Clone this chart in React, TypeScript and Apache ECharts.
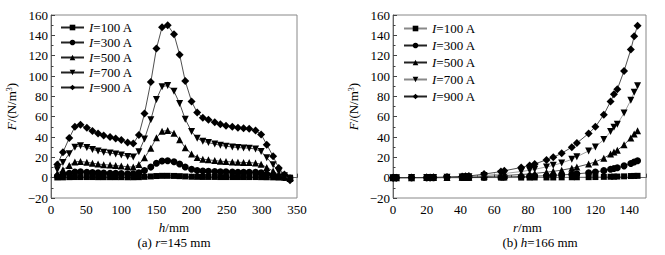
import { useEffect, useRef } from 'react';
import * as echarts from 'echarts';

// ---- Left chart (a) r = 145 mm : F vs h ----
const hValues = [9, 17, 26, 34, 42, 51, 59, 67, 75, 84, 92, 100, 109, 117, 125, 133, 142, 150, 158, 166, 175, 183, 191, 200, 208, 216, 224, 233, 241, 249, 258, 266, 274, 282, 291, 299, 307, 316, 324, 332, 340];
const leftF100 = [0.2, 0.3, 0.5, 0.6, 0.6, 0.6, 0.6, 0.5, 0.5, 0.5, 0.5, 0.5, 0.4, 0.4, 0.5, 0.8, 1.2, 1.6, 1.8, 1.8, 1.7, 1.5, 1.2, 0.9, 0.8, 0.7, 0.7, 0.7, 0.6, 0.6, 0.6, 0.6, 0.6, 0.6, 0.6, 0.5, 0.4, 0.3, 0.1, 0, 0];
const leftF300 = [1.4, 2.8, 4.3, 5.6, 5.8, 5.4, 5.1, 4.8, 4.6, 4.4, 4.3, 4.1, 3.8, 3.7, 4.7, 7, 10.4, 14.1, 16.4, 16.7, 15.7, 13.4, 10.5, 8.3, 7.1, 6.5, 6.3, 6, 5.8, 5.7, 5.6, 5.4, 5.4, 5.3, 5.2, 4.7, 3.6, 2.3, 1.1, 0.3, -0.3];
const leftF500 = [4, 7.7, 12, 15.5, 16, 15.1, 14.2, 13.4, 12.8, 12.4, 11.9, 11.4, 10.7, 10.4, 13, 19.5, 29, 39.2, 45.7, 46.3, 43.6, 37.4, 29.4, 23.2, 19.8, 18.2, 17.6, 16.8, 16.2, 15.8, 15.5, 15.1, 15, 14.8, 14.4, 13.1, 10, 6.5, 2.9, 0.9, -0.8];
const leftF700 = [7.9, 15, 23.6, 30, 31.5, 29.6, 27.8, 26.3, 25.1, 24.2, 23.3, 22.4, 20.9, 20.3, 25.4, 38, 57, 77, 89.5, 90.7, 85, 73, 57.5, 45.4, 38.7, 35.7, 34.5, 33, 31.8, 30.9, 30.2, 29.6, 29.3, 29, 28.1, 25.7, 19.7, 12.7, 5.7, 1.8, -1.5];
const leftF900 = [13, 25, 39, 50, 52, 49, 46, 43.5, 41.5, 40, 38.5, 37, 34.5, 33.5, 42, 63, 94, 127, 148, 150, 141, 121, 95, 75, 64, 59, 57, 54.5, 52.5, 51, 50, 49, 48.5, 48, 46.5, 42.5, 32.5, 21, 9.5, 3, -2.5];

// ---- Right chart (b) h = 166 mm : F vs r ----
const rValues = [0, 2, 11, 20, 22, 24, 32, 41, 43, 45, 54, 64, 66, 76, 81, 84, 91, 95, 100, 106, 109, 116, 120, 125, 129, 131, 133, 137, 141, 143, 145];
const rightF100 = [0, 0, 0, 0, 0, 0, 0, 0, 0, 0, 0, 0.1, 0.1, 0.1, 0.1, 0.2, 0.2, 0.2, 0.3, 0.4, 0.4, 0.5, 0.6, 0.8, 0.9, 1, 1.1, 1.3, 1.6, 1.7, 1.8];
const rightF300 = [0, 0, 0, 0, 0, 0, 0.1, 0.1, 0.2, 0.2, 0.4, 0.7, 0.8, 1.1, 1.3, 1.5, 1.9, 2.2, 2.7, 3.3, 3.8, 4.8, 5.6, 6.9, 8.3, 9.1, 9.7, 11.6, 14, 15.4, 16.6];
const rightF500 = [0, 0, 0, 0.1, 0.1, 0.1, 0.2, 0.4, 0.4, 0.5, 1.1, 1.9, 2.1, 3.1, 3.7, 4.2, 5.4, 6.2, 7.4, 9.3, 10.5, 13.4, 15.5, 19.2, 23.2, 25.3, 26.9, 32.4, 38.9, 43, 46.2];
const rightF700 = [0, 0, 0.1, 0.1, 0.1, 0.2, 0.4, 0.7, 0.8, 1, 2.1, 3.6, 4.1, 6, 7.3, 8.2, 10.6, 12.1, 14.5, 18, 20.6, 26.3, 30.2, 37.5, 45.4, 49.6, 52.6, 63.5, 76.2, 84, 90.5];
const rightF900 = [0, 0, 0.1, 0.2, 0.2, 0.3, 0.6, 1.2, 1.4, 1.6, 3.5, 6, 6.8, 10, 12, 13.5, 17.5, 20, 24, 30, 34, 43.5, 50, 62, 75, 82, 87, 105, 126, 139, 149.5];

const currents = ['100', '300', '500', '700', '900'];
const symbols = ['rect', 'circle', 'triangle', 'triangle', 'diamond'];
const rotations = [0, 0, 0, 180, 0];
const symbolSizes = [6, 7, 7, 7, 8];
const rightLineColors = ['#888', '#222', '#222', '#888', '#222'];

const yTicks = { min: -20, max: 160, interval: 20 };
const leftX = { min: 0, max: 350, interval: 50 };
const rightX = { min: 0, max: 150, interval: 20 };

const FONT = "'Liberation Serif', 'Times New Roman', serif";
const FS = 13;

export default function App() {
  const ref = useRef<HTMLDivElement>(null);
  useEffect(() => {
    if (!ref.current) return;
    const chart = echarts.init(ref.current, undefined, { renderer: 'svg' });
    const leftSets = [leftF100, leftF300, leftF500, leftF700, leftF900];
    const rightSets = [rightF100, rightF300, rightF500, rightF700, rightF900];

    const labelStyle = { color: '#000', fontFamily: FONT, fontSize: FS };
    const minus = (v: number) => String(v).replace('-', '\u2212');
    const richName = {
      i: { fontStyle: 'italic', fontFamily: FONT, fontSize: FS, color: '#000' },
      n: { fontFamily: FONT, fontSize: FS, color: '#000' },
      s: { fontFamily: FONT, fontSize: 8, color: '#000', verticalAlign: 'top', padding: [0, 0, 5, 0] },
    };
    const mkX = (idx: number, cfg: any, nm: string, hideMax: boolean, shift: number) => ({
      type: 'value',
      gridIndex: idx,
      min: cfg.min,
      max: cfg.max,
      interval: cfg.interval,
      name: nm,
      nameLocation: 'middle',
      nameGap: 13,
      nameTextStyle: { ...labelStyle, rich: richName, padding: [0, 0, 0, shift], lineHeight: 14 },
      axisLine: { show: true, lineStyle: { color: '#666', width: 1 } },
      axisTick: { show: true, inside: true, length: 4, lineStyle: { color: '#444' } },
      minorTick: { show: true, splitNumber: 2, length: 2.5, lineStyle: { color: '#444' } },
      splitLine: { show: false },
      axisLabel: {
        ...labelStyle,
        margin: 5,
        formatter: (v: number) => (hideMax && v === cfg.max ? '' : minus(v)),
      },
    });
    const mkY = (idx: number) => ({
      type: 'value',
      gridIndex: idx,
      min: yTicks.min,
      max: yTicks.max,
      interval: yTicks.interval,
      name: '{i|F}{n|/(N/m}{s|3}{n|)}',
      nameLocation: 'middle',
      nameGap: 33,
      nameRotate: 90,
      nameTextStyle: { ...labelStyle, rich: richName },
      axisLine: { show: true, lineStyle: { color: '#666', width: 1 } },
      axisTick: { show: true, inside: true, length: 4, lineStyle: { color: '#444' } },
      minorTick: { show: true, splitNumber: 2, length: 2.5, lineStyle: { color: '#444' } },
      splitLine: { show: false },
      axisLabel: { ...labelStyle, margin: 3, formatter: (v: number) => minus(v) },
    });

    const series: any[] = [];
    currents.forEach((c, k) => {
      series.push({
        type: 'line',
        name: 'a' + c,
        xAxisIndex: 0,
        yAxisIndex: 0,
        data: hValues.map((h, i) => [h, leftSets[k][i]]),
        symbol: symbols[k],
        symbolRotate: rotations[k],
        symbolSize: symbolSizes[k],
        showAllSymbol: true,
        lineStyle: { color: '#222', width: 0.8 },
        itemStyle: { color: '#000' },
        z: 2 + k,
      });
    });
    currents.forEach((c, k) => {
      series.push({
        type: 'line',
        name: 'b' + c,
        xAxisIndex: 1,
        yAxisIndex: 1,
        data: rValues.map((r, i) => [r, rightSets[k][i]]),
        symbol: symbols[k],
        symbolRotate: rotations[k],
        symbolSize: symbolSizes[k],
        showAllSymbol: true,
        lineStyle: { color: rightLineColors[k], width: 0.8 },
        itemStyle: { color: '#000' },
        z: 2 + k,
      });
    });

    const legendBase = {
      orient: 'vertical',
      itemWidth: 23,
      itemHeight: 7,
      itemGap: 2,
      padding: 0,
      textStyle: {
        ...labelStyle,
        rich: {
          i: { fontStyle: 'italic', fontFamily: FONT, fontSize: FS, color: '#000' },
          n: { fontFamily: FONT, fontSize: FS, color: '#000' },
        },
      },
      formatter: (name: string) => '{i|I}{n|=' + name.slice(1) + ' A}',
      selectedMode: false,
    };

    chart.setOption({
      animation: false,
      backgroundColor: '#fff',
      grid: [
        { left: 51, top: 15, width: 246, height: 183, show: true, borderColor: '#888', borderWidth: 1 },
        { left: 393, top: 15, width: 253, height: 183, show: true, borderColor: '#888', borderWidth: 1 },
      ],
      xAxis: [
        mkX(0, leftX, '{i|h}{n|/mm}', false, 0),
        mkX(1, rightX, '{i|r}{n|/mm}', true, 16),
      ],
      yAxis: [mkY(0), mkY(1)],
      legend: [
        { ...legendBase, left: 60, top: 21, data: currents.map((c) => 'a' + c) },
        { ...legendBase, left: 403, top: 22, itemGap: 4, data: currents.map((c) => 'b' + c) },
      ],
      graphic: [
        {
          type: 'text',
          x: 174,
          y: 242,
          style: {
            text: '{n|(a) }{i|r}{n|=145 mm}',
            align: 'center',
            verticalAlign: 'middle',
            fontFamily: FONT,
            fontSize: FS,
            rich: richName,
          },
        },
        {
          type: 'text',
          x: 540,
          y: 242,
          style: {
            text: '{n|(b) }{i|h}{n|=166 mm}',
            align: 'center',
            verticalAlign: 'middle',
            fontFamily: FONT,
            fontSize: FS,
            rich: richName,
          },
        },
      ],
      series,
    });
    return () => chart.dispose();
  }, []);
  return (
    <div
      ref={ref}
      style={{ position: 'fixed', left: 0, top: 0, width: 665, height: 255, background: '#fff' }}
    />
  );
}
